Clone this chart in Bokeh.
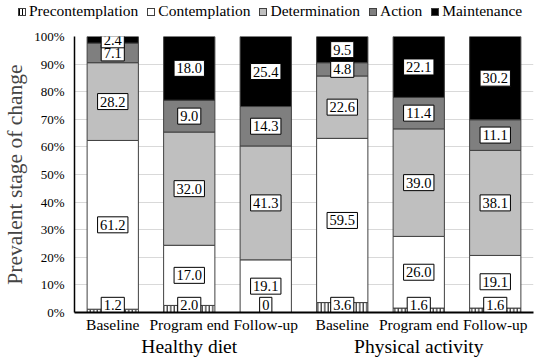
from bokeh.plotting import figure
from bokeh.layouts import column
from bokeh.models import ColumnDataSource, FixedTicker, LinearAxis, Range1d, Div
from bokeh.core.properties import value
from bokeh.embed import file_html
from bokeh.resources import INLINE

# ---- data ----
groups = ["Healthy diet", "Physical activity"]
timepoints = ["Baseline", "Program end", "Follow-up", "Baseline", "Program end", "Follow-up"]
stages = ["Precontemplation", "Contemplation", "Determination", "Action", "Maintenance"]
precontemplation = [1.2, 2.0, 0, 3.6, 1.6, 1.6]
contemplation = [61.2, 17.0, 19.1, 59.5, 26.0, 19.1]
determination = [28.2, 32.0, 41.3, 22.6, 39.0, 38.1]
action = [7.1, 9.0, 14.3, 4.8, 11.4, 11.1]
maintenance = [2.4, 18.0, 25.4, 9.5, 22.1, 30.2]
y_ticks = [0, 10, 20, 30, 40, 50, 60, 70, 80, 90, 100]

colors = ["white", "white", "#bfbfbf", "#7f7f7f", "black"]
FONT = "Liberation Serif"
LBL_PX = 14.5
HATCH = dict(hatch_pattern="vertical_line", hatch_color="black", hatch_scale=3.5, hatch_weight=1)

series = [precontemplation, contemplation, determination, action, maintenance]
n = len(timepoints)
xpos = [i + 0.5 for i in range(n)]
group_pos = [1.5, 4.5]
totals = [sum(s[i] for s in series) for i in range(n)]


def text_w(s):
    return sum((0.25 if c == "." else 0.5) for c in s) * LBL_PX


# ---- main chart ----
p = figure(width=550, height=340, x_range=Range1d(0, n), y_range=Range1d(0, 100),
           output_backend="svg", toolbar_location=None,
           min_border_left=69, min_border_right=17, min_border_top=12, min_border_bottom=52)

label_srcs = []
cum = [0.0] * n
for k, (name, vals) in enumerate(zip(stages, series)):
    share = [v / t * 100 for v, t in zip(vals, totals)]
    bottom = cum[:]
    top = [b + s for b, s in zip(bottom, share)]
    cum = top
    if k == 0:
        mid = [2.6] * n
    else:
        mid = [(b + t) / 2 for b, t in zip(bottom, top)]
    txt = [("0" if v == 0 else f"{v:.1f}") for v in vals]
    bw = [text_w(t) + 5 for t in txt]
    src = ColumnDataSource(dict(x=xpos, bottom=bottom, top=top, mid=mid, txt=txt, bw=bw))
    kw = HATCH if k == 0 else {}
    p.vbar(x="x", bottom="bottom", top="top", width=0.67, source=src,
           fill_color=colors[k], line_color="#404040", line_width=1, **kw)
    label_srcs.append(src)

for src in label_srcs:
    p.rect(x="x", y="mid", width="bw", height=16, width_units="screen", height_units="screen",
           source=src, fill_color="white", line_color="black", line_width=1)
    p.text(x="x", y="mid", text="txt", source=src, text_align="center", text_baseline="middle",
           text_font=value(FONT), text_font_size=f"{LBL_PX}px", text_color="black")

p.yaxis.ticker = FixedTicker(ticks=y_ticks)
p.yaxis.major_label_overrides = {t: f"{t}%" for t in y_ticks}
p.yaxis.axis_label = "Prevalent stage of change"
p.yaxis.axis_label_text_font = FONT
p.yaxis.axis_label_text_font_size = "21.5px"
p.yaxis.axis_label_text_font_style = "normal"
p.yaxis.axis_label_standoff = 4
p.yaxis.major_label_standoff = 10
p.yaxis.major_label_text_font = FONT
p.yaxis.major_label_text_font_size = "13px"
p.yaxis.major_label_text_color = "black"
p.yaxis.major_tick_line_color = None
p.yaxis.minor_tick_line_color = None
p.yaxis.major_tick_out = 0
p.yaxis.minor_tick_out = 0
p.yaxis.axis_line_color = "black"
p.yaxis.axis_line_width = 1.5

p.xaxis.ticker = FixedTicker(ticks=xpos)
p.xaxis.major_label_overrides = {x: t for x, t in zip(xpos, timepoints)}
p.xaxis.major_label_text_font = FONT
p.xaxis.major_label_text_font_size = "15.5px"
p.xaxis.major_label_text_color = "black"
p.xaxis.major_label_standoff = 3
p.xaxis.major_tick_line_color = None
p.xaxis.minor_tick_line_color = None
p.xaxis.major_tick_out = 0
p.xaxis.minor_tick_out = 0
p.xaxis.axis_line_color = "black"
p.xaxis.axis_line_width = 2

gaxis = LinearAxis(ticker=FixedTicker(ticks=group_pos),
                   major_label_overrides={x: g for x, g in zip(group_pos, groups)},
                   major_label_text_font=FONT, major_label_text_font_size="19.5px",
                   major_label_text_color="black", major_label_standoff=0,
                   major_tick_out=0, minor_tick_out=0,
                   axis_line_color=None, major_tick_line_color=None, minor_tick_line_color=None)
p.add_layout(gaxis, "below")

p.xgrid.grid_line_color = None
p.ygrid.grid_line_color = "#d9d9d9"
p.outline_line_color = None

# ---- legend strip (HTML) ----
def swatch(k):
    if k == 0:
        bg = "repeating-linear-gradient(90deg, #000 0px, #000 1px, #fff 1px, #fff 3px)"
    else:
        bg = colors[k]
    return (f'<span style="display:inline-block;width:8px;height:8px;border:1px solid #404040;'
            f'background:{bg};margin-right:3px;vertical-align:0px;"></span>')


items_html = "".join(
    f'<span style="margin-right:9px;white-space:nowrap;">{swatch(k)}{name}</span>'
    for k, name in enumerate(stages))
legend_div = Div(text=(f'<div style="font-family:\'{FONT}\';font-size:15.5px;color:black;'
                       f'white-space:nowrap;padding-top:2px;line-height:18px;">'
                       f'{items_html}</div>'),
                 width=532, height=24, margin=(0, 0, 0, 18))

open("out.html", "w").write(file_html(column(legend_div, p, spacing=0), INLINE))
